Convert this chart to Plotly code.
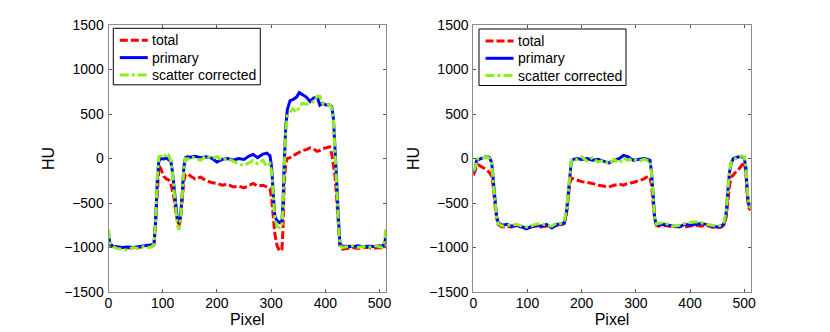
import plotly.graph_objects as go

# ---------------- data: left panel ----------------
left_x = [0, 3, 8, 15, 25, 35, 45, 55, 65, 75, 80, 84, 87, 90, 93, 97, 102, 107, 111, 115,
          118, 121, 124, 127, 130, 133, 136, 139, 142, 146, 152, 160, 170, 180, 190, 200,
          210, 220, 230, 240, 250, 260, 267, 275, 285, 292, 298, 301, 304, 307, 311, 316,
          320, 322, 324, 327, 330, 335, 340, 347, 352, 358, 365, 372, 378, 385, 390, 395,
          402, 408, 412, 415, 418, 421, 424, 427, 432, 440, 450, 460, 470, 480, 490, 500,
          505, 509, 512]
left_primary = [-850, -960, -985, -990, -1000, -995, -1000, -990, -985, -980, -970, -960, -700,
                -250, -20, 0, -5, 5, -10, -30, -150, -350, -550, -680, -720, -650, -400, -100,
                10, 20, 15, 25, 10, 20, 5, -40, -10, 0, -20, 0, -10, 30, 45, 10, 50, 60, 30,
                -100, -400, -650, -700, -720, -700, -500, -100, 350, 550, 650, 660, 690, 740,
                720, 690, 640, 680, 690, 600, 620, 600, 600, 580, 450, 150, -250, -650, -960,
                -990, -985, -990, -980, -990, -985, -990, -980, -990, -950, -880]
left_corrected = [-800, -950, -990, -1010, -1020, -1030, -1000, -1010, -990, -1000, -990, -960,
                  -700, -200, 20, 30, 10, 60, 40, -30, -170, -380, -600, -750, -800, -700, -420,
                  -100, 0, -10, 20, 0, -20, 30, 0, 20, -20, 0, -30, -60, -80, -40, -20, -60,
                  -20, -90, -60, -150, -450, -680, -760, -780, -760, -550, -150, 300, 480, 520,
                  560, 520, 580, 620, 610, 620, 640, 700, 700, 620, 600, 600, 570, 430, 120,
                  -300, -700, -980, -1000, -990, -980, -1000, -990, -1000, -980, -990, -1000,
                  -930, -780]
left_total = [-900, -970, -990, -1000, -1010, -1000, -1010, -1000, -990, -980, -990, -970, -700,
              -300, -80, -120, -200, -230, -240, -280, -350, -450, -600, -700, -760, -680, -450,
              -250, -180, -170, -200, -230, -210, -250, -270, -280, -300, -290, -320, -310,
              -330, -300, -280, -310, -300, -320, -340, -450, -650, -850, -980, -1040, -1020,
              -800, -300, -50, 0, 10, 30, 50, 70, 90, 100, 120, 110, 80, 90, 110, 120, 130, 50,
              -100, -200, -450, -750, -1000, -1020, -1010, -1000, -1010, -1000, -1000, -1010,
              -1000, -1010, -1000, -990]

# ---------------- data: right panel ----------------
right_x = [0, 3, 6, 10, 15, 20, 25, 30, 34, 37, 40, 43, 46, 50, 55, 62, 70, 80, 90, 98, 105,
           115, 125, 135, 145, 155, 162, 168, 172, 175, 178, 181, 185, 192, 200, 210, 220, 230,
           240, 250, 260, 270, 277, 285, 295, 305, 315, 322, 326, 329, 332, 335, 338, 342, 350,
           360, 370, 380, 390, 400, 410, 420, 430, 440, 450, 458, 463, 467, 470, 473, 476, 480,
           485, 490, 495, 500, 503, 506, 509, 512]
right_primary = [-150, -130, -20, -10, 0, 10, 25, 10, -50, -250, -500, -650, -720, -740, -750,
                 -740, -760, -750, -770, -790, -770, -750, -760, -740, -780, -740, -740, -720,
                 -600, -400, -150, -30, -10, 0, -10, 0, -20, -10, -30, -50, -20, 0, 35, 20, -20,
                 -10, 0, -10, -20, -150, -450, -680, -740, -750, -740, -750, -760, -770, -740,
                 -750, -740, -730, -740, -760, -770, -760, -730, -600, -350, -150, -50, 0, 10,
                 20, 20, 10, -100, -400, -530, -540]
right_corrected = [-140, -120, -10, -5, 5, 15, 20, 0, -60, -270, -520, -660, -730, -750, -760,
                   -750, -750, -740, -760, -770, -760, -740, -730, -750, -760, -720, -730, -700,
                   -580, -380, -130, -20, 0, -10, 20, -30, 10, -40, -20, -60, -10, -50, 10, -20,
                   0, -30, -10, -20, -30, -170, -470, -690, -740, -730, -720, -740, -760, -750,
                   -730, -720, -710, -720, -740, -750, -760, -750, -710, -580, -330, -130, -40,
                   -10, 0, 15, 30, 20, -80, -380, -520, -560]
right_total = [-190, -150, -100, -75, -90, -110, -130, -160, -200, -320, -520, -670, -740, -760,
               -770, -760, -770, -760, -770, -780, -770, -760, -770, -760, -770, -750, -750,
               -730, -620, -450, -280, -220, -230, -240, -260, -270, -280, -300, -310, -320,
               -300, -290, -300, -280, -270, -250, -230, -200, -220, -300, -500, -700, -750,
               -760, -750, -760, -770, -760, -770, -760, -750, -760, -750, -770, -780, -770,
               -740, -650, -450, -300, -210, -180, -150, -120, -80, -40, -150, -450, -560, -580]

x_ticks = [0, 100, 200, 300, 400, 500]
y_ticks = [-1500, -1000, -500, 0, 500, 1000, 1500]
series_names = ["total", "primary", "scatter corrected"]

RED = "#ff0000"
BLUE = "#0000ff"
GREEN = "#8cf01a"
FONT = "Liberation Sans, Arial, sans-serif"
styles = [
    dict(color=RED, width=3, dash="8px,3px"),
    dict(color=BLUE, width=3),
    dict(color=GREEN, width=3, dash="9px,3px,3px,3px"),
]

W, H, OFF = 830, 332, 8   # page body margin offsets the figure by 8px


def px(X):
    return (X - OFF) / W


def py(Y):
    return 1 - (Y - OFF) / H


fig = go.Figure()
panels = [
    ("x", "y", left_x, [left_total, left_primary, left_corrected]),
    ("x2", "y2", right_x, [right_total, right_primary, right_corrected]),
]
for xa, ya, xs, series in panels:
    for name, ys, st in zip(series_names, series, styles):
        fig.add_trace(go.Scatter(x=xs, y=ys, mode="lines", name=name, showlegend=False,
                                 xaxis=xa, yaxis=ya, line=st))

# legend boxes (drawn as decorations, one per panel)
shapes, annots = [], []
for lx, ly in [(113.3, 28.3), (479, 29)]:
    shapes.append(dict(type="rect", xref="paper", yref="paper",
                       x0=px(lx), x1=px(lx + 147), y0=py(ly), y1=py(ly + 56.5),
                       line=dict(color="black", width=1), fillcolor="white", layer="above"))
    for i, (name, st) in enumerate(zip(series_names, styles)):
        yy = ly + 12 + 17.3 * i
        shapes.append(dict(type="line", xref="paper", yref="paper",
                           x0=px(lx + 6.5), x1=px(lx + 34.5), y0=py(yy), y1=py(yy),
                           line=st, layer="above"))
        annots.append(dict(text=name, xref="paper", yref="paper", x=px(lx + 36.5), y=py(yy),
                           xanchor="left", yanchor="middle", showarrow=False,
                           font=dict(family=FONT, size=14, color="black")))

axis_common = dict(showgrid=False, zeroline=False, showline=True, mirror="ticks",
                   linecolor="#8c8c8c", linewidth=1, ticks="inside", ticklen=3,
                   tickcolor="#555555", automargin=False,
                   tickfont=dict(family=FONT, size=14, color="black"))
title_font = dict(family=FONT, size=16, color="black")
ydom = [py(292), py(25)]

fig.update_layout(
    width=W, height=H,
    margin=dict(l=0, r=0, t=0, b=0, autoexpand=False),
    paper_bgcolor="white", plot_bgcolor="white",
    shapes=shapes, annotations=annots,
    xaxis=dict(domain=[px(108.5), px(386)], range=[0, 512], tickvals=x_ticks,
               ticklabelstandoff=-2,
               title=dict(text="Pixel", font=title_font, standoff=1), **axis_common),
    yaxis=dict(domain=ydom, range=[-1500, 1500], tickvals=y_ticks, ticklabelstandoff=1,
               title=dict(text="HU", font=title_font, standoff=5), **axis_common),
    xaxis2=dict(domain=[px(473.3), px(750.7)], range=[0, 512], tickvals=x_ticks, anchor="y2",
                ticklabelstandoff=-2,
                title=dict(text="Pixel", font=title_font, standoff=1), **axis_common),
    yaxis2=dict(domain=ydom, range=[-1500, 1500], tickvals=y_ticks, anchor="x2",
                ticklabelstandoff=1,
                title=dict(text="HU", font=title_font, standoff=5), **axis_common),
)

fig.write_html("out.html")
